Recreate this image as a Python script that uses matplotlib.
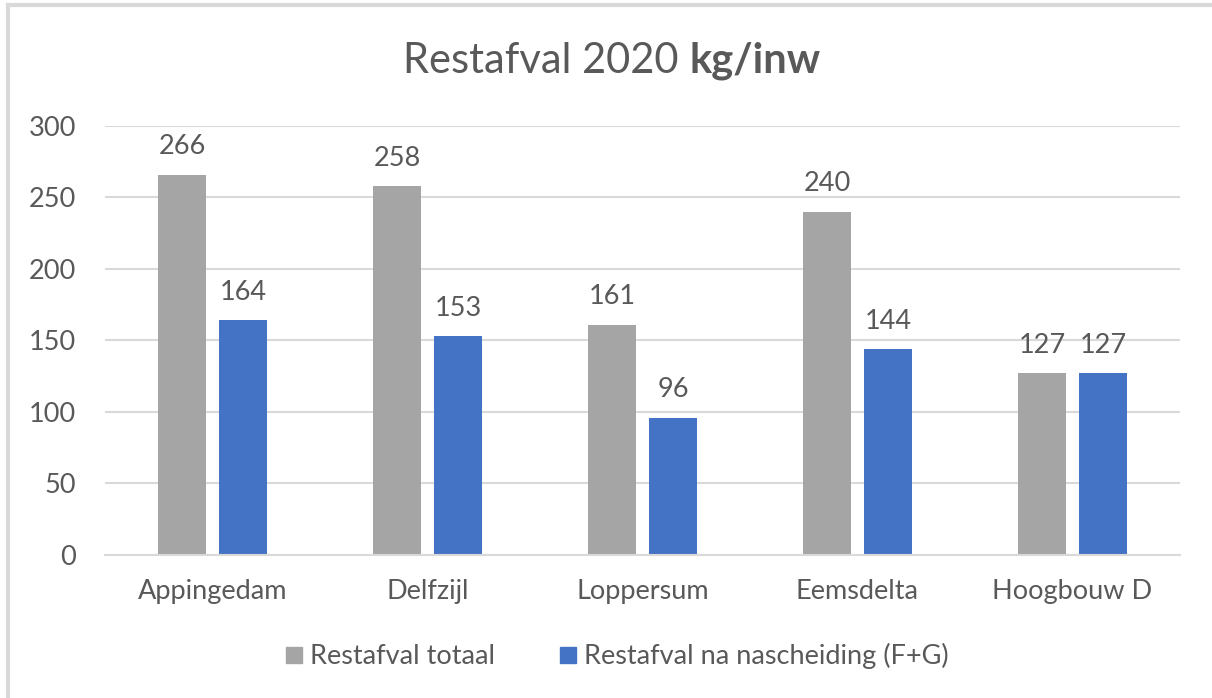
import numpy as np
import matplotlib

matplotlib.use("Agg")
import matplotlib.pyplot as plt
from matplotlib.lines import Line2D

plt.rcParams["font.family"] = ["Lato", "DejaVu Sans"]

categories = ["Appingedam", "Delfzijl", "Loppersum", "Eemsdelta", "Hoogbouw D"]
totaal = [266, 258, 161, 240, 127]
na_nascheiding = [164, 153, 96, 144, 127]
series_names = ["Restafval totaal", "Restafval na nascheiding (F+G)"]
yticks = [0, 50, 100, 150, 200, 250, 300]

grey = "#A5A5A5"
blue = "#4472C4"
txt = "#595959"
grid = "#D9D9D9"
fs = 19.5

fig = plt.figure(figsize=(12.12, 6.98), dpi=100)
ax = fig.add_axes([0.0866, 0.205, 0.887, 0.6146])

x = np.arange(len(categories))
w = 0.22
b1 = ax.bar(x - 0.142, totaal, w, color=grey, label=series_names[0], zorder=3)
b2 = ax.bar(x + 0.142, na_nascheiding, w, color=blue, label=series_names[1], zorder=3)
for b in (b1, b2):
    ax.bar_label(b, padding=11, fontsize=fs, color=txt)

ax.set_xlim(-0.5, 4.5)
ax.set_ylim(0, 300)
ax.set_yticks(yticks)
ax.set_xticks(x)
ax.set_xticklabels(categories)
ax.tick_params(axis="both", length=0, labelsize=fs, labelcolor=txt)
ax.tick_params(axis="y", pad=21)
ax.tick_params(axis="x", pad=17)
ax.yaxis.grid(True, color=grid, linewidth=1.5, zorder=0)
for s in ["left", "right", "top"]:
    ax.spines[s].set_visible(False)
ax.spines["bottom"].set_color(grid)
ax.spines["bottom"].set_linewidth(1.5)
ax.spines["bottom"].set_zorder(4)

# title: normal part + bold part, centred together
t1 = fig.text(0.5, 0.913, "Restafval 2020 ", fontsize=30, color=txt, va="center", ha="left")
t2 = fig.text(0.5, 0.913, "kg/inw", fontsize=30, color=txt, va="center", ha="left",
              fontweight="bold")
fig.canvas.draw()
r = fig.canvas.get_renderer()
w1 = t1.get_window_extent(r).width / fig.bbox.width
w2 = t2.get_window_extent(r).width / fig.bbox.width
x0 = 0.505 - (w1 + w2) / 2
t1.set_x(x0)
t2.set_x(x0 + w1)

handles = [Line2D([], [], marker="s", linestyle="", markersize=12, color=c) for c in (grey, blue)]
fig.legend(handles, series_names, loc="center", bbox_to_anchor=(0.507, 0.06), ncol=2,
           frameon=False, fontsize=fs, labelcolor=txt, handletextpad=0.1,
           columnspacing=2.2, handlelength=1.0)

# chart border (only top and left edges visible in the screenshot)
fig.add_artist(Line2D([0.007, 0.007], [0, 0.993], transform=fig.transFigure,
                      color=grid, linewidth=3))
fig.add_artist(Line2D([0.007, 1], [0.993, 0.993], transform=fig.transFigure,
                      color=grid, linewidth=3))

fig.savefig("out.png", dpi=100)
